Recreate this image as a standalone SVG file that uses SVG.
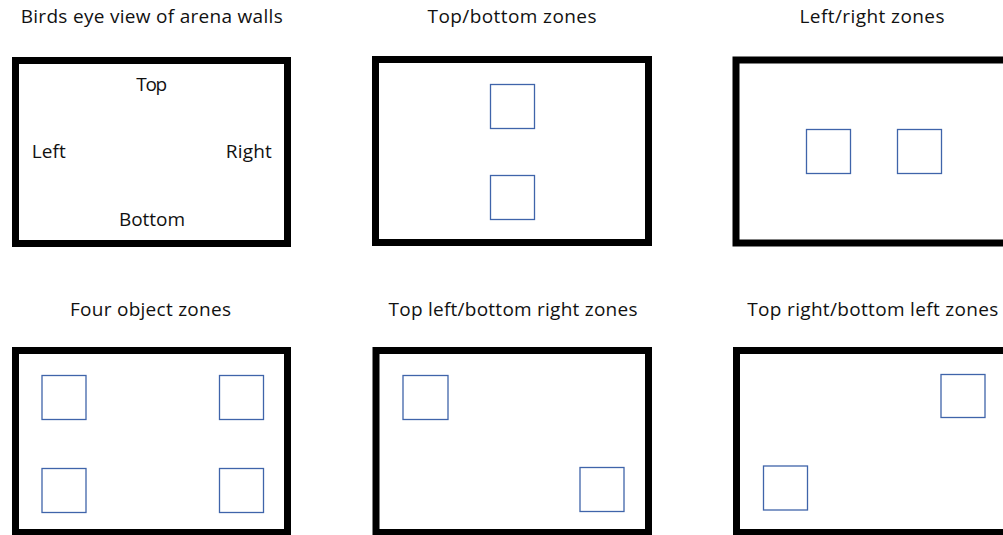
<svg xmlns="http://www.w3.org/2000/svg" width="1003" height="535" viewBox="0 0 1003 535">
<style>
.wall{fill:#fff;stroke:#000;stroke-width:7}
.zone{fill:none;stroke:#3f64aa;stroke-width:1.3}
.t{font-family:"Open Sans","Liberation Sans",sans-serif;font-size:19px;fill:#111;text-anchor:middle}
</style>
<rect width="1003" height="535" fill="#fff"/>
<g id="panel-walls">
<text class="t" x="151.7" y="23" textLength="262">Birds eye view of arena walls</text>
<rect class="wall" x="15.5" y="60.5" width="272" height="183"/>
<text class="t" x="151.7" y="90.5" textLength="31">Top</text>
<text class="t" x="48.8" y="157.5" textLength="34">Left</text>
<text class="t" x="248.8" y="157.5" textLength="46">Right</text>
<text class="t" x="152" y="225.5" textLength="66">Bottom</text>
</g>
<g id="panel-top-bottom">
<text class="t" x="512" y="23" textLength="169">Top/bottom zones</text>
<rect class="wall" x="375.5" y="59.5" width="273" height="183"/>
<rect class="zone" x="490.5" y="84.5" width="44" height="44"/>
<rect class="zone" x="490.5" y="175.5" width="44" height="44"/>
</g>
<g id="panel-left-right">
<text class="t" x="872" y="23" textLength="145">Left/right zones</text>
<rect class="wall" x="736" y="60" width="280" height="183"/>
<rect class="zone" x="806.5" y="129.5" width="44" height="44"/>
<rect class="zone" x="897.5" y="129.5" width="44" height="44"/>
</g>
<g id="panel-four">
<text class="t" x="150.5" y="316" textLength="161">Four object zones</text>
<rect class="wall" x="15.5" y="350.5" width="272" height="182"/>
<rect class="zone" x="42" y="375.5" width="44" height="44"/>
<rect class="zone" x="219.5" y="375.5" width="44" height="44"/>
<rect class="zone" x="42" y="468.5" width="44" height="44"/>
<rect class="zone" x="219.5" y="468.5" width="44" height="44"/>
</g>
<g id="panel-tl-br">
<text class="t" x="513" y="316" textLength="249">Top left/bottom right zones</text>
<rect class="wall" x="376" y="350.5" width="272.5" height="182"/>
<rect class="zone" x="403" y="375.5" width="45" height="44"/>
<rect class="zone" x="580" y="467.5" width="44" height="44"/>
</g>
<g id="panel-tr-bl">
<text class="t" x="872.8" y="316" textLength="251">Top right/bottom left zones</text>
<rect class="wall" x="736.5" y="350.5" width="280" height="182"/>
<rect class="zone" x="941" y="374.5" width="44" height="43"/>
<rect class="zone" x="763.5" y="466" width="44" height="44"/>
</g>
<g id="connectors"/>
</svg>
